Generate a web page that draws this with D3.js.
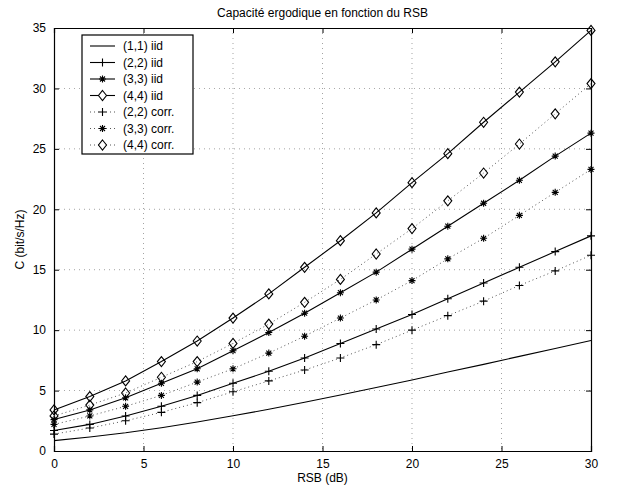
<!DOCTYPE html>
<html>
<head>
<meta charset="utf-8">
<script src="https://cdn.jsdelivr.net/npm/d3@7"></script>
<style>
  body { margin: 0; background: #fff; }
  text { font-family: "Liberation Sans", Arial, sans-serif; fill: #000; }
</style>
</head>
<body>
<svg id="chart" width="621" height="490"></svg>
<script>
// RSB values (dB)
var snr = [0, 2, 4, 6, 8, 10, 12, 14, 16, 18, 20, 22, 24, 26, 28, 30];

// capacities (bit/s/Hz)
var iid11 = [0.86, 1.16, 1.51, 1.93, 2.40, 2.91, 3.45, 4.03, 4.63, 5.25, 5.88, 6.53, 7.17, 7.83, 8.48, 9.14];
var iid22 = [1.7, 2.2, 2.9, 3.7, 4.6, 5.6, 6.6, 7.7, 8.9, 10.1, 11.3, 12.6, 13.9, 15.2, 16.5, 17.8];
var iid33 = [2.6, 3.4, 4.4, 5.6, 6.8, 8.3, 9.8, 11.4, 13.1, 14.8, 16.7, 18.6, 20.5, 22.4, 24.4, 26.3];
var iid44 = [3.4, 4.5, 5.8, 7.4, 9.1, 11.0, 13.0, 15.2, 17.4, 19.7, 22.2, 24.6, 27.2, 29.7, 32.2, 34.8];
var corr22 = [1.4, 1.9, 2.5, 3.2, 4.0, 4.9, 5.8, 6.7, 7.7, 8.8, 10.0, 11.2, 12.4, 13.7, 14.9, 16.2];
var corr33 = [2.2, 2.9, 3.7, 4.6, 5.7, 6.8, 8.1, 9.5, 11.0, 12.5, 14.1, 15.9, 17.6, 19.5, 21.4, 23.3];
var corr44 = [2.9, 3.8, 4.8, 6.1, 7.4, 8.9, 10.5, 12.3, 14.2, 16.3, 18.4, 20.7, 23.0, 25.4, 27.9, 30.4];

var xTicks = [0, 5, 10, 15, 20, 25, 30];
var yTicks = [0, 5, 10, 15, 20, 25, 30, 35];

var series = [
    {name: "(1,1) iid", values: iid11, marker: null, dotted: false},
    {name: "(2,2) iid", values: iid22, marker: "plus", dotted: false},
    {name: "(3,3) iid", values: iid33, marker: "star", dotted: false},
    {name: "(4,4) iid", values: iid44, marker: "diamond", dotted: false},
    {name: "(2,2) corr.", values: corr22, marker: "plus", dotted: true},
    {name: "(3,3) corr.", values: corr33, marker: "star", dotted: true},
    {name: "(4,4) corr.", values: corr44, marker: "diamond", dotted: true}
];

var pLeft = 54, pRight = 591, pTop = 28, pBottom = 451;

var svg = d3.select("#chart");

var x = d3.scaleLinear().domain([0, 30]).range([pLeft, pRight]);
var y = d3.scaleLinear().domain([0, 35]).range([pBottom, pTop]);

// marker shapes
function markerPath(type) {
    if (type == "plus") return "M-4,0H4M0,-4V4";
    if (type == "star") return "M-3.5,0H3.5M0,-3.5V3.5M-2.5,-2.5L2.5,2.5M-2.5,2.5L2.5,-2.5";
    if (type == "diamond") return "M0,-5L4,0L0,5L-4,0Z";
    return "";
}

// grid
svg.append("g").selectAll("line")
    .data(xTicks.filter(function(d) { return d > 0 && d < 30; }))
    .enter().append("line")
    .attr("x1", function(d) { return x(d); })
    .attr("x2", function(d) { return x(d); })
    .attr("y1", pTop).attr("y2", pBottom)
    .attr("stroke", "#000").attr("stroke-width", 0.6)
    .attr("stroke-dasharray", "1,4").attr("opacity", 0.6);

svg.append("g").selectAll("line")
    .data(yTicks.filter(function(d) { return d > 0 && d < 35; }))
    .enter().append("line")
    .attr("x1", pLeft).attr("x2", pRight)
    .attr("y1", function(d) { return y(d); })
    .attr("y2", function(d) { return y(d); })
    .attr("stroke", "#000").attr("stroke-width", 0.6)
    .attr("stroke-dasharray", "1,4").attr("opacity", 0.6);

// axes
var xAxis = d3.axisBottom(x).tickValues(xTicks).tickSize(-5).tickPadding(8);
var xAxisTop = d3.axisTop(x).tickValues(xTicks).tickSize(-5).tickFormat("");
var yAxis = d3.axisLeft(y).tickValues(yTicks).tickSize(-5).tickPadding(8);
var yAxisRight = d3.axisRight(y).tickValues(yTicks).tickSize(-5).tickFormat("");

svg.append("g").attr("transform", "translate(0," + pBottom + ")").call(xAxis);
svg.append("g").attr("transform", "translate(0," + pTop + ")").call(xAxisTop);
var gy = svg.append("g").attr("transform", "translate(" + pLeft + ",0)").call(yAxis);
svg.append("g").attr("transform", "translate(" + pRight + ",0)").call(yAxisRight);

svg.selectAll(".domain").attr("stroke", "#000").attr("stroke-width", 1.2);
svg.selectAll(".tick line").attr("stroke", "#000");
svg.selectAll(".tick text").style("font-size", "12px")
    .style("font-family", "'Liberation Sans', Arial, sans-serif");

// lines
var line = d3.line()
    .x(function(d, i) { return x(snr[i]); })
    .y(function(d) { return y(d); });

series.forEach(function(s) {
    svg.append("path")
        .datum(s.values)
        .attr("d", line)
        .attr("fill", "none")
        .attr("stroke", s.dotted ? "#555" : "#000")
        .attr("stroke-width", s.dotted ? 1 : 1.1)
        .attr("stroke-dasharray", s.dotted ? "1,3" : null);

    if (s.marker) {
        svg.append("g").selectAll("path")
            .data(s.values)
            .enter().append("path")
            .attr("transform", function(d, i) { return "translate(" + x(snr[i]) + "," + y(d) + ")"; })
            .attr("d", markerPath(s.marker))
            .attr("fill", "none")
            .attr("stroke", "#000")
            .attr("stroke-width", 1.1);
    }
});

// legend
var lg = svg.append("g");
lg.append("rect")
    .attr("x", 82).attr("y", 35).attr("width", 111).attr("height", 119)
    .attr("fill", "#fff").attr("stroke", "#000").attr("stroke-width", 1.2);

series.forEach(function(s, i) {
    var ly = 46 + i * 16.5;
    lg.append("line")
        .attr("x1", 90).attr("x2", 115).attr("y1", ly).attr("y2", ly)
        .attr("stroke", s.dotted ? "#555" : "#000")
        .attr("stroke-width", 1.1)
        .attr("stroke-dasharray", s.dotted ? "1,3" : null);
    if (s.marker) {
        lg.append("path")
            .attr("transform", "translate(102.5," + ly + ")")
            .attr("d", markerPath(s.marker))
            .attr("fill", "#fff").attr("stroke", "#000").attr("stroke-width", 1.1);
    }
    lg.append("text")
        .attr("x", 123).attr("y", ly).attr("dy", "0.35em")
        .style("font-size", "12px")
        .text(s.name);
});

// title and axis labels
svg.append("text")
    .attr("x", (pLeft + pRight) / 2).attr("y", 17)
    .attr("text-anchor", "middle").style("font-size", "12px")
    .text("Capacité ergodique en fonction du RSB");

svg.append("text")
    .attr("x", (pLeft + pRight) / 2).attr("y", 482)
    .attr("text-anchor", "middle").style("font-size", "12px")
    .text("RSB (dB)");

svg.append("text")
    .attr("transform", "translate(24," + ((pTop + pBottom) / 2) + ") rotate(-90)")
    .attr("text-anchor", "middle").style("font-size", "12px")
    .text("C (bit/s/Hz)");
</script>
</body>
</html>
